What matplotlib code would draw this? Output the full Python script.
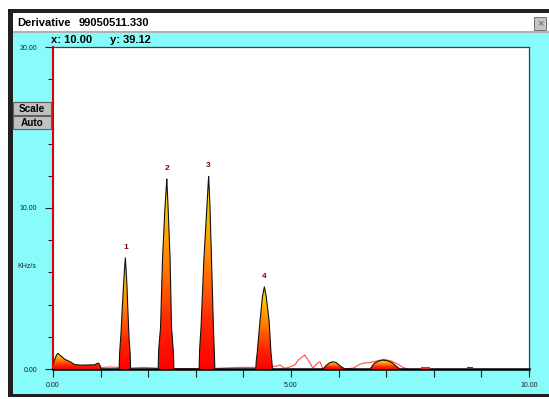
import numpy as np
import matplotlib
matplotlib.use('Agg')
import matplotlib.pyplot as plt
from matplotlib.patches import Rectangle, Polygon
from matplotlib.colors import LinearSegmentedColormap

plt.rcParams['font.family'] = ['Liberation Sans', 'DejaVu Sans']

W, H = 549, 399

# ---------------- texts ----------------
title_name = "Derivative"
title_file = "99050511.330"
cursor_x = "x: 10.00"
cursor_y = "y: 39.12"
y_unit = "KHz/s"
button_labels = ["Scale", "Auto"]

# ---------------- axes ----------------
x_major = [0, 5, 10]
x_major_labels = ["0.00", "5.00", "10.00"]
x_minor = [0, 1, 2, 3, 4, 5, 6, 7, 8, 9, 10]
y_major = [0, 10, 20]
y_major_labels = ["0.00", "10.00", "20.00"]
y_minor = [0, 2, 4, 6, 8, 10, 12, 14, 16, 18, 20]

# ---------------- filled spectrum ----------------
peak0_x = [0.00, 0.03, 0.08, 0.11, 0.15, 0.25, 0.36, 0.46, 0.60, 0.75, 0.88, 0.93, 0.96, 0.99, 1.01]
peak0_y = [0.30, 0.55, 0.90, 0.97, 0.85, 0.60, 0.45, 0.27, 0.24, 0.25, 0.26, 0.35, 0.36, 0.20, 0.00]

peak1_x = [1.39, 1.40, 1.43, 1.456, 1.48, 1.505, 1.52, 1.535, 1.555, 1.57, 1.60, 1.62, 1.63]
peak1_y = [0.00, 1.00, 2.30, 3.85, 5.10, 6.30, 6.90, 6.20, 5.10, 3.85, 1.80, 1.00, 0.00]

peak2_x = [2.21, 2.22, 2.26, 2.30, 2.35, 2.38, 2.39, 2.40, 2.42, 2.46, 2.49, 2.53, 2.54]
peak2_y = [0.00, 1.20, 2.60, 6.80, 9.90, 11.30, 11.80, 11.20, 9.90, 6.80, 2.60, 1.00, 0.00]

peak3_x = [3.07, 3.08, 3.11, 3.17, 3.23, 3.26, 3.27, 3.28, 3.30, 3.33, 3.37, 3.39, 3.40]
peak3_y = [0.00, 1.20, 2.60, 6.80, 9.90, 11.50, 11.95, 11.30, 9.90, 6.80, 2.60, 1.00, 0.00]

peak4_x = [4.26, 4.27, 4.29, 4.35, 4.40, 4.44, 4.48, 4.54, 4.58, 4.60, 4.61]
peak4_y = [0.00, 0.50, 1.00, 3.00, 4.50, 5.10, 4.50, 3.00, 1.00, 0.40, 0.00]

bump5_x = [5.67, 5.75, 5.82, 5.88, 5.95, 6.03, 6.13]
bump5_y = [0.00, 0.25, 0.40, 0.45, 0.40, 0.20, 0.00]

bump6_x = [6.66, 6.75, 6.85, 6.93, 7.02, 7.12, 7.22, 7.29]
bump6_y = [0.00, 0.35, 0.50, 0.55, 0.52, 0.40, 0.15, 0.00]

peak_names = ["", "1", "2", "3", "4", "", ""]

# ---------------- reference trace (thin red line) ----------------
trace_x = [1.00, 1.20, 1.39, 1.63, 1.90, 2.21, 2.60, 3.00, 3.50, 3.90, 4.20, 4.62, 4.70,
           4.77, 4.87, 4.95, 5.08, 5.15, 5.29, 5.40, 5.46, 5.55, 5.61, 5.67, 6.10, 6.30,
           6.45, 6.55, 6.66, 6.80, 6.95, 7.10, 7.25, 7.35, 7.45]
trace_y = [0.10, 0.12, 0.10, 0.06, 0.10, 0.05, 0.02, 0.02, 0.05, 0.10, 0.10, 0.15, 0.18,
           0.25, 0.05, 0.10, 0.25, 0.55, 0.87, 0.37, 0.05, 0.35, 0.45, 0.00, 0.00, 0.05,
           0.30, 0.38, 0.40, 0.50, 0.60, 0.50, 0.30, 0.10, 0.00]

dash_red_x = [7.74, 7.92]
dash_red_y = [0.08, 0.08]
dash_gray_x = [8.69, 8.82]
dash_gray_y = [0.08, 0.08]

# ---------------- figure ----------------
fig = plt.figure(figsize=(W / 100, H / 100), dpi=100, facecolor='white')


def frect(x0, y0, x1, y1, z=-5, **kw):
    r = Rectangle((x0 / W, 1 - y1 / H), (x1 - x0) / W, (y1 - y0) / H,
                  transform=fig.transFigure, zorder=z, **kw)
    fig.add_artist(r)
    return r


def ftext(x, y, s, **kw):
    return fig.text(x / W, 1 - y / H, s, **kw)


# window frame
frect(8, 9, 549, 397, facecolor='#202020', edgecolor='none')
frect(13, 13, 549, 31, facecolor='white', edgecolor='none')
frect(13, 31, 549, 32.5, facecolor='#b0b0b0', edgecolor='none')
frect(13, 32.5, 549, 394, facecolor='#88fbfb', edgecolor='none')

ftext(17, 22.5, title_name, fontsize=8, fontweight='bold', ha='left', va='center', color='black')
ftext(79, 22.5, title_file, fontsize=8, fontweight='bold', ha='left', va='center', color='black')

# close button
frect(534, 17, 546, 30, z=2, facecolor='#c4c4c4', edgecolor='#707070', linewidth=0.7)
ftext(540, 23.5, "\u00d7", fontsize=8, ha='center', va='center', color='#606060', zorder=3)

# cursor readout
ftext(51, 40, cursor_x, fontsize=8, fontweight='bold', ha='left', va='center', color='black')
ftext(110, 40, cursor_y, fontsize=8, fontweight='bold', ha='left', va='center', color='black')

# buttons
for i, lab in enumerate(button_labels):
    y0 = 102 + i * 14
    frect(13, y0, 51, y0 + 12.5, z=2, facecolor='#c0c0c0', edgecolor='#606060', linewidth=0.8)
    ftext(32, y0 + 6.5, lab, fontsize=7.2, fontweight='bold', ha='center', va='center',
          color='black', zorder=3)

ftext(17, 267, y_unit, fontsize=5, ha='left', va='center', color='#202020')

# ---------------- axes ----------------
ax = fig.add_axes([53 / W, 1 - 369 / H, (529 - 53) / W, (369 - 47) / H])
ax.set_facecolor('white')

cmap = LinearSegmentedColormap.from_list(
    'peak', [(0.0, '#ff0000'), (0.25, '#ff2800'), (0.55, '#ff8000'),
             (0.85, '#ffc800'), (1.0, '#f0e000')])
grad = np.linspace(0, 1, 256).reshape(-1, 1)

peaks = [(peak0_x, peak0_y), (peak1_x, peak1_y), (peak2_x, peak2_y), (peak3_x, peak3_y),
         (peak4_x, peak4_y), (bump5_x, bump5_y), (bump6_x, bump6_y)]

ax.plot(trace_x, trace_y, color='#ff4a4a', lw=0.8, zorder=2)

for (px, py), name in zip(peaks, peak_names):
    verts = [(px[0], 0)] + list(zip(px, py)) + [(px[-1], 0)]
    poly = Polygon(verts, closed=True, facecolor='none', edgecolor='none')
    ax.add_patch(poly)
    top = max(py)
    im = ax.imshow(grad, extent=[min(px), max(px), 0, top], origin='lower',
                   aspect='auto', cmap=cmap, zorder=3, interpolation='bilinear')
    im.set_clip_path(poly)
    ax.plot(px, py, color='#111111', lw=0.8, zorder=4)
    if name:
        ax.text(px[int(np.argmax(py))], top + 0.45, name, color='#8b0000', fontsize=6,
                fontweight='bold', ha='center', va='bottom', zorder=5)

ax.plot(dash_red_x, dash_red_y, color='#ff2020', lw=1.5, zorder=4, solid_capstyle='butt')
ax.plot(dash_gray_x, dash_gray_y, color='#404040', lw=1.5, zorder=4, solid_capstyle='butt')

ax.set_xlim(0, 10)
ax.set_ylim(0, 20)

ax.set_xticks(x_major)
ax.set_xticklabels(x_major_labels)
ax.set_xticks(x_minor, minor=True)
ax.set_yticks(y_major)
ax.set_yticklabels(y_major_labels)
ax.set_yticks(y_minor, minor=True)

ax.tick_params(axis='x', which='both', direction='out', length=5.8, width=0.8,
               color='#202020', labelsize=5, pad=3.5, labelcolor='#202020')
ax.tick_params(axis='y', which='major', direction='out', length=5.8, width=0.8,
               color='#202020', labelsize=5, pad=5.5, labelcolor='#202020')
ax.tick_params(axis='y', which='minor', direction='out', length=3.6, width=0.8,
               color='#202020')

ax.spines['left'].set_color('#e00000')
ax.spines['left'].set_linewidth(1.5)
ax.spines['bottom'].set_color('black')
ax.spines['bottom'].set_linewidth(1.8)
ax.spines['top'].set_color('#2a4a4a')
ax.spines['top'].set_linewidth(0.9)
ax.spines['right'].set_color('#2a4a4a')
ax.spines['right'].set_linewidth(0.9)

fig.savefig('out.png', dpi=100, facecolor='white')
